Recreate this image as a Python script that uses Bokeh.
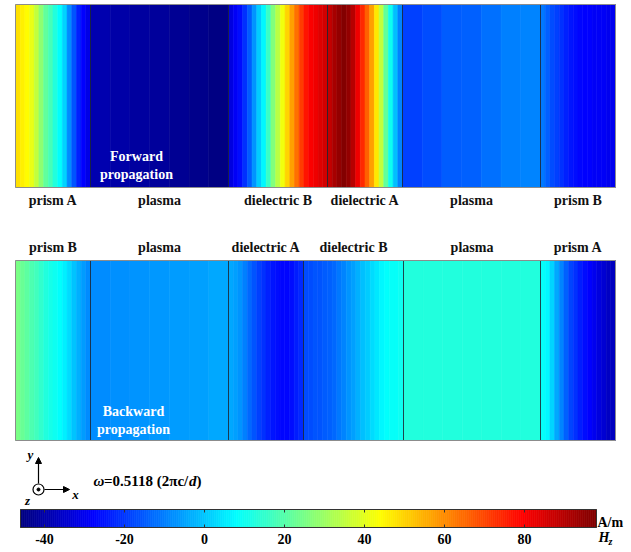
import numpy as np
from bokeh.plotting import figure
from bokeh.models import Range1d, ColumnDataSource, LinearColorMapper, Arrow, NormalHead
from bokeh.core.properties import value
from bokeh.embed import file_html
from bokeh.resources import INLINE

# ---------------- data ----------------
# forward (top) structure
top_layers = ["prism A", "plasma", "dielectric B", "dielectric A", "plasma", "prism B"]
top_edges = [0, 75, 213, 312, 387, 525, 600]
top_prismA = [48, 46, 44, 41, 35, 28, 22, 18, 13, 8, 2, -8, -16, -23, -28, -31]
top_plasma1 = [-39, -40, -41, -42, -43, -44, -45]
top_dielB = [-32, -29, -26, -21, -15, -7, 1, 7, 16, 26, 34, 42, 50, 57, 64, 71, 77, 80, 82, 84, 86]
top_dielA = [88, 92, 95, 97, 95, 90, 82, 74, 66, 57, 47, 35, 22, 10, -1, -9]
top_plasma2 = [-19, -17, -15, -14, -12, -10, -9]
top_prismB = [-11, -14, -17, -19, -21, -23, -25, -26, -27, -28, -28, -29, -29, -29, -30, -30]

# backward (bottom) structure
bot_layers = ["prism B", "plasma", "dielectric A", "dielectric B", "plasma", "prism A"]
bot_edges = [0, 75, 213, 288, 388, 525, 600]
bot_prismB = [25, 23, 21, 19, 17, 15, 13, 11, 10, 8, 6, 3, 0, -3, -6, -8]
bot_plasma1 = [-8, -7.5, -7, -6.5, -6, -5, -4]
bot_dielA = [-4, -5, -7, -10, -13, -16, -19, -21, -23, -25, -26, -27, -27, -26, -24, -22]
bot_dielB = [-17, -17, -16, -16, -15, -14, -13, -11, -9, -7, -5, -3, -1, 1, 3, 5, 7, 8, 9, 9, 10]
bot_plasma2 = [13, 13, 13, 13, 13, 13, 13]
bot_prismA = [9, 7, 2, -4, -9, -14, -18, -21, -24, -26, -28, -30, -32, -34, -36, -37]

# colour scale
cb_low, cb_high = -46, 98
cb_ticks = [-40, -20, 0, 20, 40, 60, 80]

# ---------------- styling ----------------
def jet(n=256):
    out = []
    for t in np.linspace(0, 1, n):
        r = np.clip(1.5 - abs(4 * t - 3), 0, 1)
        g = np.clip(1.5 - abs(4 * t - 2), 0, 1)
        b = np.clip(1.5 - abs(4 * t - 1), 0, 1)
        out.append("#%02x%02x%02x" % (int(r * 255), int(g * 255), int(b * 255)))
    return out

mapper = LinearColorMapper(palette=jet(256), low=cb_low, high=cb_high)
FONT = value("Liberation Serif")

W, H = 631, 552
p = figure(width=W, height=H, x_range=Range1d(-15, 616), y_range=Range1d(552, 0),
           output_backend="svg", toolbar_location=None, min_border=0,
           x_axis_type=None, y_axis_type=None)
p.outline_line_color = None
p.grid.visible = False
p.extra_x_ranges = {"cb": Range1d(-51, 106.75)}


def panel(edges, vals_list, names, y_top, y_bot, label_y):
    l, r, v = [], [], []
    for a, b, vals in zip(edges[:-1], edges[1:], vals_list):
        n = len(vals)
        w = (b - a) / n
        for i, val in enumerate(vals):
            l.append(a + i * w)
            r.append(a + (i + 1) * w)
            v.append(val)
    src = ColumnDataSource(dict(left=l, right=r, v=v))
    cm = {"field": "v", "transform": mapper}
    p.quad(left="left", right="right", top=y_top, bottom=y_bot, source=src,
           fill_color=cm, line_color=cm, line_width=0.6)
    inner = edges[1:-1]
    p.segment(x0=inner, x1=inner, y0=[y_top] * len(inner), y1=[y_bot] * len(inner),
              line_color="#1b2633", line_width=1, line_alpha=0.85)
    p.quad(left=edges[0], right=edges[-1], top=y_top, bottom=y_bot,
           fill_color=None, line_color="#8c8c8c", line_width=1)
    centers = [(a + b) / 2 for a, b in zip(edges[:-1], edges[1:])]
    p.text(x=centers, y=[label_y] * len(centers), text=names, text_font=FONT,
           text_font_style="bold", text_font_size="14px", text_color="#111111",
           text_align="center", text_baseline="middle")


panel(top_edges, [top_prismA, top_plasma1, top_dielB, top_dielA, top_plasma2, top_prismB],
      top_layers, 4, 187, 200)
panel(bot_edges, [bot_prismB, bot_plasma1, bot_dielA, bot_dielB, bot_plasma2, bot_prismA],
      bot_layers, 260, 440, 247)

# propagation captions
p.text(x=[121, 121], y=[156, 174], text=["Forward", "propagation"], text_font=FONT,
       text_font_style="bold", text_font_size="14px", text_color="white",
       text_align="center", text_baseline="middle")
p.text(x=[118, 118], y=[411, 429], text=["Backward", "propagation"], text_font=FONT,
       text_font_style="bold", text_font_size="14px", text_color="white",
       text_align="center", text_baseline="middle")

# coordinate axes icon
ox, oy = 23, 489
p.add_layout(Arrow(x_start=ox, y_start=oy - 6, x_end=ox, y_end=oy - 32,
                   end=NormalHead(size=6, fill_color="black", line_color="black"),
                   line_width=1.2, line_color="black"))
p.add_layout(Arrow(x_start=ox + 6, y_start=oy, x_end=ox + 31, y_end=oy,
                   end=NormalHead(size=6, fill_color="black", line_color="black"),
                   line_width=1.2, line_color="black"))
p.scatter(x=[ox], y=[oy], size=11, fill_color="white", line_color="black", line_width=1.2)
p.scatter(x=[ox], y=[oy], size=3, fill_color="black", line_color="black")
p.text(x=[15, 60, 12], y=[454, 494, 500], text=["y", "x", "z"], text_font=FONT,
       text_font_style="bold italic", text_font_size="13px", text_color="black",
       text_align="center", text_baseline="middle")

# omega annotation
p.text(x=[78], y=[480], text=["ω"], text_font=FONT, text_font_style="bold italic",
       text_font_size="15px", text_baseline="middle")
p.text(x=[88.5], y=[480], text=["=0.5118 (2πc/"], text_font=FONT, text_font_style="bold",
       text_font_size="15px", text_baseline="middle")
p.text(x=[173.5], y=[480], text=["d"], text_font=FONT, text_font_style="bold italic",
       text_font_size="15px", text_baseline="middle")
p.text(x=[181], y=[480], text=[")"], text_font=FONT, text_font_style="bold",
       text_font_size="15px", text_baseline="middle")

# colour bar
levels = np.arange(cb_low, cb_high, 0.5)
cbs = ColumnDataSource(dict(left=levels, right=levels + 0.5, v=levels + 0.25))
cmv = {"field": "v", "transform": mapper}
p.quad(left="left", right="right", top=509, bottom=527, source=cbs, fill_color=cmv,
       line_color=cmv, line_width=0.6, x_range_name="cb")
p.quad(left=cb_low, right=cb_high, top=509, bottom=527, fill_color=None,
       line_color="#333333", line_width=1, x_range_name="cb")
p.segment(x0=cb_ticks, x1=cb_ticks, y0=[509] * 7, y1=[512] * 7, line_color="#333333",
          x_range_name="cb")
p.segment(x0=cb_ticks, x1=cb_ticks, y0=[524] * 7, y1=[527] * 7, line_color="#333333",
          x_range_name="cb")
p.text(x=cb_ticks, y=[538] * 7, text=[str(t) for t in cb_ticks], text_font=FONT,
       text_font_style="bold", text_font_size="14px", text_align="center",
       text_baseline="middle", x_range_name="cb")
p.text(x=[582], y=[522], text=["A/m"], text_font=FONT, text_font_style="bold",
       text_font_size="14px", text_baseline="middle")
p.text(x=[583], y=[537], text=["H"], text_font=FONT, text_font_style="bold italic",
       text_font_size="14px", text_baseline="middle")
p.text(x=[593], y=[541], text=["z"], text_font=FONT, text_font_style="bold italic",
       text_font_size="10px", text_baseline="middle")

open("out.html", "w").write(file_html(p, INLINE))
